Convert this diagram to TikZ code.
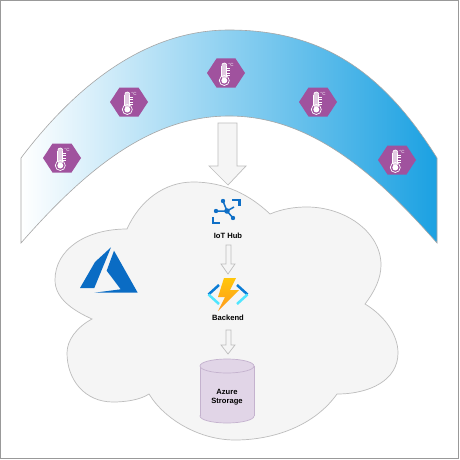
\documentclass[tikz,border=0pt]{standalone}
\usepackage{fontspec}
\setmainfont{Liberation Sans}
\definecolor{bandblue}{HTML}{1BA1E2}
\definecolor{hexpurple}{HTML}{A0529E}
\definecolor{cloudfill}{HTML}{F5F5F5}
\definecolor{cloudline}{HTML}{BDBDBD}
\definecolor{azureblue}{HTML}{0A6CC4}
\definecolor{iotblue}{HTML}{0F6FC6}
\definecolor{cylfill}{HTML}{E1D5E7}
\definecolor{cylline}{HTML}{C4B2CE}
\definecolor{fnblue}{HTML}{0A7CD6}
\definecolor{fncyan}{HTML}{50E6FF}
\definecolor{boltyellow}{HTML}{FFC60A}
\definecolor{boltorange}{HTML}{FF9A1F}
\tikzset{
  block/.style={fill=cloudfill,draw=cloudline,line width=0.7pt,line join=miter},
  lbl/.style={font=\fontsize{7.6}{9}\selectfont\bfseries,inner sep=0pt,align=center},
  sensor/.pic={
    \fill[hexpurple] (-19,0)--(-9.5,-14.5)--(9.5,-14.5)--(19,0)--(9.5,14.5)--(-9.5,14.5)--cycle;
    \fill[white!70!hexpurple] (-4.2,5) rectangle (0.8,-7.5);
    \fill[white!70!hexpurple] (-1.7,-7.5) circle[radius=2.5];
    \draw[white,line width=0.7pt] (-4.2,4) -- (-4.2,-7.5) (0.8,-7.5) -- (0.8,4);
    \draw[white,line width=0.7pt] (-4.2,-7.5) .. controls (-4.2,-10.8) and (0.8,-10.8) .. (0.8,-7.5);
    \draw[white,line width=0.7pt] (-1.7,7.5) circle[radius=5];
    \fill[white] (-1.7,7.5) circle[radius=3];
    \draw[white,line width=0.6pt] (0.8,-5) -- (3.8,-5) (0.8,-2.5) -- (3.8,-2.5) (0.8,0) -- (3.8,0) (0.8,2.5) -- (3.8,2.5);
    \node[text=white,inner sep=0pt,font=\fontsize{4.5}{5}\selectfont] at (5,-8.5) {°C};
  }
}
\begin{document}
\begin{tikzpicture}[x=1pt,y=-1pt]
\useasboundingbox (0,0) rectangle (460,460);
\fill[white] (0,0) rectangle (460,460);
\draw[gray!80,line width=1.4pt] (0.5,0.5) rectangle (458.5,458.5);
% band
\path[left color=white,right color=bandblue,draw=gray!70,line width=0.6pt]
  (21,158) .. controls (80,80) and (150,30) .. (229,30)
  .. controls (325,30) and (385,75) .. (437,158)
  -- (437,243)
  .. controls (373,170) and (308,116) .. (229,116)
  .. controls (150,116) and (85,170) .. (21,243) -- cycle;
% sensors
\pic at (62,158) {sensor};
\pic at (129,102) {sensor};
\pic at (226,73) {sensor};
\pic at (318,102) {sensor};
\pic at (397,160) {sensor};
% big arrow
\draw[block] (218,123) -- (237,123) -- (237,166) -- (246,166) -- (228,185) -- (209,166) -- (218,166) -- cycle;
% cloud
\draw[block]
 (127,229) .. controls (140,200) and (165,182) .. (193,182)
 .. controls (225,182) and (250,195) .. (270,214)
 .. controls (282,209) and (294,207) .. (307,207)
 .. controls (345,207) and (381,232) .. (381,265)
 .. controls (381,278) and (375,291) .. (365,304)
 .. controls (385,316) and (398,335) .. (398,353)
 .. controls (398,380) and (370,394) .. (337,394)
 .. controls (315,425) and (275,440) .. (235,440)
 .. controls (200,440) and (165,420) .. (149,394)
 .. controls (140,400) and (125,402) .. (113,402)
 .. controls (85,402) and (67,380) .. (67,353)
 .. controls (67,340) and (77,327) .. (92,319)
 .. controls (72,310) and (55,298) .. (55,280)
 .. controls (55,250) and (85,229) .. (127,229) -- cycle;
% azure logo
\fill[azureblue] (111,247.3) -- (95,262) -- (80,288) -- (94.3,288) -- cycle;
\fill[azureblue] (114,250.7) -- (106.7,270.7) -- (120.7,289.3) -- (94.3,292.7) -- (137.7,292.7) -- cycle;
% iot hub icon
\begin{scope}[iotblue]
\draw[line width=2.3pt] (232,200) -- (239.5,200) -- (239.5,206);
\draw[line width=2.3pt] (213,217) -- (213,223) -- (220,223);
\draw[line width=1.5pt] (227,211) -- (223,201) (227,211) -- (216,211) (227,211) -- (233,218) (227,211) -- (234,207);
\fill (227,211) circle[radius=2.8];
\fill (223,201) circle[radius=2.2];
\fill (216,211) circle[radius=2.2];
\fill (233,218) circle[radius=2.2];
\end{scope}
\node[lbl] (hub) at (228,236) {IoT Hub};
% small arrows
\draw[block] (226,245) -- (231,245) -- (231,264) -- (235,264) -- (228,274) -- (221,264) -- (226,264) -- cycle;
% function icon
\draw[fnblue,line width=2.5pt] (219,285) -- (208.5,294.5);
\draw[fncyan,line width=2.5pt] (208.5,294.5) -- (219,304);
\draw[fnblue,line width=2.5pt] (237,285) -- (247.5,294.5);
\draw[fncyan,line width=2.5pt] (247.5,294.5) -- (237,304);
\path[top color=boltyellow,bottom color=boltorange] (224,278) -- (236,278) -- (230,290) -- (239,290) -- (218,311) -- (225,297) -- (218,297) -- cycle;
\node[lbl] (back) at (228,318) {Backend};
\draw[block] (226,330) -- (231,330) -- (231,345) -- (235,345) -- (228,354) -- (221,345) -- (226,345) -- cycle;
% cylinder
\draw[fill=cylfill,draw=cylline,line width=0.7pt] (227,416) ellipse[x radius=27,y radius=7];
\fill[cylfill] (200,366) rectangle (254,416);
\draw[cylline,line width=0.7pt] (200,366) -- (200,416) (254,366) -- (254,416);
\draw[fill=cylfill,draw=cylline,line width=0.7pt] (227,366) ellipse[x radius=27,y radius=7];
\node[lbl] (store) at (227,397) {Azure\\Strorage};
\end{tikzpicture}
\end{document}
